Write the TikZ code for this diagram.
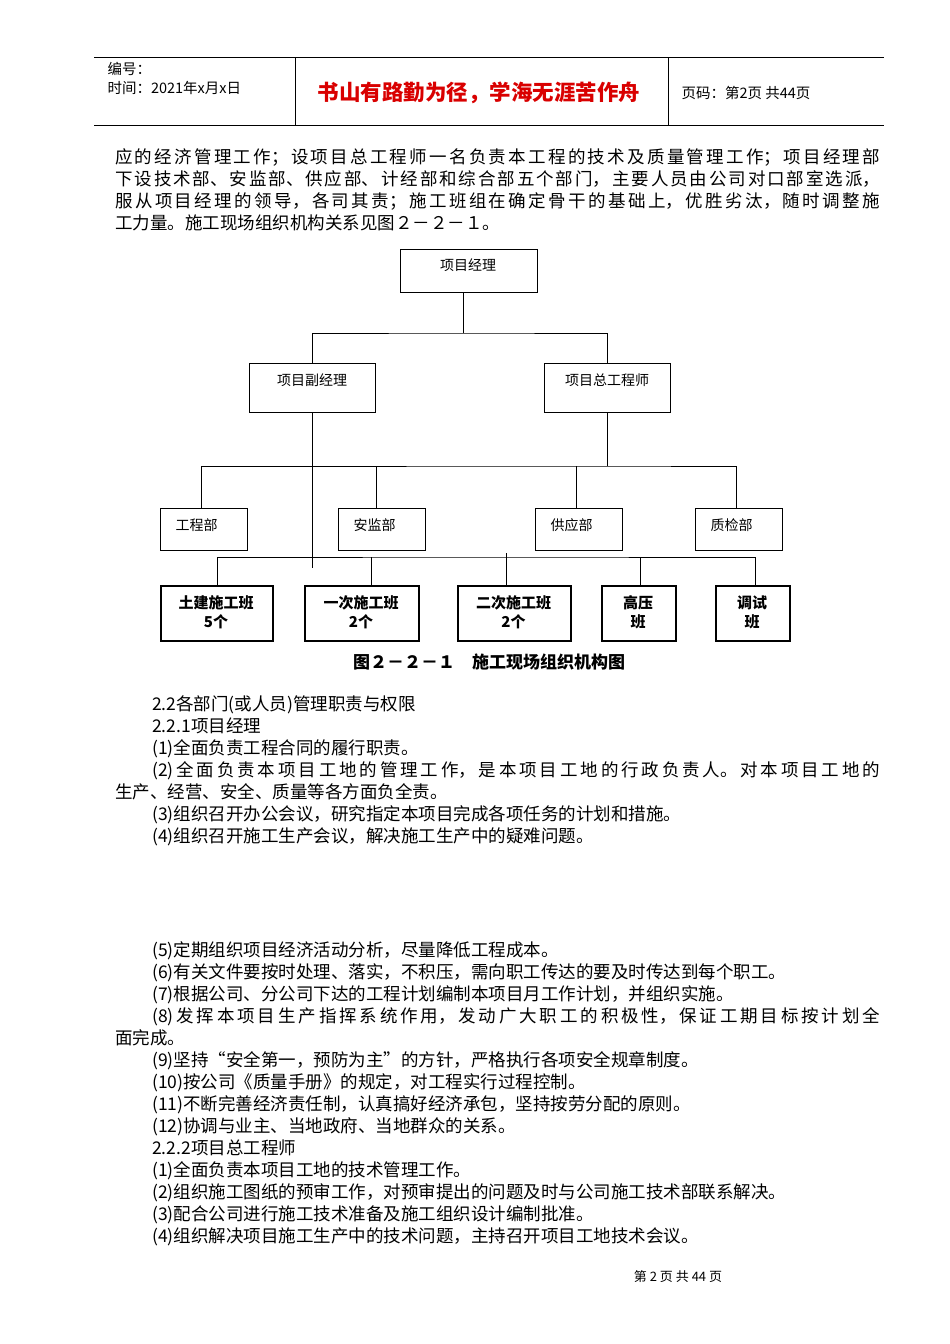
\documentclass[tikz,border=0pt]{standalone}
\usepackage{fontspec}
\setmainfont{Noto Sans CJK SC}
\XeTeXlinebreaklocale "zh"
\XeTeXlinebreakskip=0pt plus 2pt
\tikzset{
 bx/.style={draw,line width=1.4pt,inner sep=0pt},
 ln/.style={line width=1pt},
 para/.style={anchor=north west,inner sep=0pt,text width=765pt,align=justify,font=\fontsize{17.5}{22}\selectfont},
}
\begin{document}
\begin{tikzpicture}[x=1pt,y=-1pt]
\useasboundingbox[fill=white] (0,0) rectangle (950,1344);
% header
\draw[ln,line width=0.8pt] (94,57)--(884,57) (94,125)--(884,125) (295,57)--(295,125) (668,57)--(668,125);
\node[anchor=west,font=\fontsize{14.5}{14}\selectfont] (h1) at (104,69) {编号：};
\node[anchor=west,font=\fontsize{14.5}{14}\selectfont] (h2) at (104,88) {时间：2021年x月x日};
\node[anchor=west,font=\fontsize{21.5}{21}\selectfont\bfseries,text=red!85!black] (h3) at (314,93) {书山有路勤为径，学海无涯苦作舟};
\node[anchor=west,font=\fontsize{14.5}{14}\selectfont] (h4) at (678,93) {页码：第2页 共44页};
% paragraph
\node[para] (p1) at (115,148) {应的经济管理工作；设项目总工程师一名负责本工程的技术及质量管理工作；项目经理部\linebreak 下设技术部、安监部、供应部、计经部和综合部五个部门，主要人员由公司对口部室选派，\linebreak 服从项目经理的领导，各司其责；施工班组在确定骨干的基础上，优胜劣汰，随时调整施\linebreak 工力量。施工现场组织机构关系见图２－２－１。};
% chart
\node[bx,minimum width=137pt,minimum height=43pt,anchor=north west] (pm) at (400,249) {};
\node[font=\fontsize{14}{14}\selectfont] at (468,265) {项目经理};
\node[bx,minimum width=126pt,minimum height=49pt,anchor=north west] (dpm) at (249,363) {};
\node[font=\fontsize{14}{14}\selectfont] at (312,380) {项目副经理};
\node[bx,minimum width=126pt,minimum height=49pt,anchor=north west] (ce) at (544,363) {};
\node[font=\fontsize{14}{14}\selectfont] at (607,380) {项目总工程师};
\foreach \n/\x/\t in {d1/160/工程部,d2/338/安监部,d3/535/供应部,d4/695/质检部}{
 \node[bx,minimum width=87pt,minimum height=42pt,anchor=north west] (\n) at (\x,508) {};
 \node[font=\fontsize{14}{14}\selectfont,anchor=west] at (\x+12,525) {\t};
}
\foreach \n/\x/\w/\t in {b1/160/112/{土建施工班\\5个},b2/304/114/{一次施工班\\2个},b3/457/113/{二次施工班\\2个},b4/601/74/{高压\\班},b5/715/74/{调试\\班}}{
 \node[bx,line width=1.8pt,minimum width=\w pt,minimum height=55pt,anchor=north west] (\n) at (\x,585) {};
 \node[font=\fontsize{15}{19}\selectfont\bfseries,align=center] at (\x+\w/2,612) {\t};
}
\draw[ln] (463,292) -- (463,333) coordinate (j1);
\draw[ln] (312,363) |- (j1) -| (607,363);
\draw[ln] (607,412) -- (607,466) coordinate (j2);
\draw[ln] (201,508) |- (j2) -| (736,508);
\draw[ln] (376,466)--(376,508) (576,466)--(576,508);
\draw[ln] (312,412) -- (312,568);
\draw[ln] (217,585) |- (505,557) -| (755,585);
\draw[ln] (371,557)--(371,585) (506,553)--(506,585) (640,557)--(640,585);
\node[font=\fontsize{17}{17}\selectfont\bfseries] (cap) at (489,662) {图２－２－１\quad 施工现场组织机构图};
% text body
\node[para] (p2) at (115,695) {\hspace*{37pt}2.2各部门(或人员)管理职责与权限\\
\hspace*{37pt}2.2.1项目经理\\
\hspace*{37pt}(1)全面负责工程合同的履行职责。\\
\hspace*{37pt}(2)全面负责本项目工地的管理工作，是本项目工地的行政负责人。对本项目工地的\linebreak 生产、经营、安全、质量等各方面负全责。\\
\hspace*{37pt}(3)组织召开办公会议，研究指定本项目完成各项任务的计划和措施。\\
\hspace*{37pt}(4)组织召开施工生产会议，解决施工生产中的疑难问题。};
\node[para] (p3) at (115,941) {\hspace*{37pt}(5)定期组织项目经济活动分析，尽量降低工程成本。\\
\hspace*{37pt}(6)有关文件要按时处理、落实，不积压，需向职工传达的要及时传达到每个职工。\\
\hspace*{37pt}(7)根据公司、分公司下达的工程计划编制本项目月工作计划，并组织实施。\\
\hspace*{37pt}(8)发挥本项目生产指挥系统作用，发动广大职工的积极性，保证工期目标按计划全\linebreak 面完成。\\
\hspace*{37pt}(9)坚持“安全第一，预防为主”的方针，严格执行各项安全规章制度。\\
\hspace*{37pt}(10)按公司《质量手册》的规定，对工程实行过程控制。\\
\hspace*{37pt}(11)不断完善经济责任制，认真搞好经济承包，坚持按劳分配的原则。\\
\hspace*{37pt}(12)协调与业主、当地政府、当地群众的关系。\\
\hspace*{37pt}2.2.2项目总工程师\\
\hspace*{37pt}(1)全面负责本项目工地的技术管理工作。\\
\hspace*{37pt}(2)组织施工图纸的预审工作，对预审提出的问题及时与公司施工技术部联系解决。\\
\hspace*{37pt}(3)配合公司进行施工技术准备及施工组织设计编制批准。\\
\hspace*{37pt}(4)组织解决项目施工生产中的技术问题，主持召开项目工地技术会议。};
\node[font=\fontsize{13}{13}\selectfont] (ft) at (678,1277) {第 2 页 共 44 页};
\end{tikzpicture}
\end{document}
